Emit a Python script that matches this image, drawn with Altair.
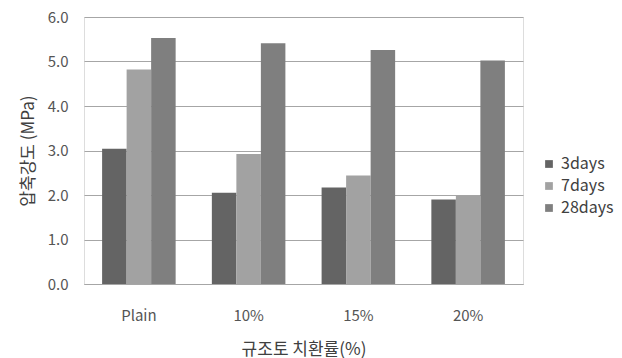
import altair as alt
import pandas as pd

categories = ["Plain", "10%", "15%", "20%"]
series = ["3days", "7days", "28days"]
v3 = [3.04, 2.05, 2.17, 1.90]
v7 = [4.82, 2.92, 2.44, 1.99]
v28 = [5.53, 5.41, 5.26, 5.02]
colors = ["#646464", "#a2a2a2", "#7f7f7f"]

rows = []
for s, vals in zip(series, [v3, v7, v28]):
    for c, v in zip(categories, vals):
        rows.append({"cat": c, "series": s, "value": v})
df = pd.DataFrame(rows)

FONT = "Noto Sans CJK KR"

chart = alt.Chart(df).mark_bar().encode(
    x=alt.X("cat:N", sort=categories,
            scale=alt.Scale(paddingInner=0.33, paddingOuter=0.165),
            axis=alt.Axis(title="규조토 치환률(%)", labelAngle=0, ticks=False,
                          domain=True, domainColor="#a6a6a6", labelPadding=24,
                          titlePadding=18, labelFontSize=15, titleFontSize=17,
                          labelColor="#555555", titleColor="#404040",
                          labelFont=FONT, titleFont=FONT, titleFontWeight="normal")),
    xOffset=alt.XOffset("series:N", sort=series),
    y=alt.Y("value:Q", scale=alt.Scale(domain=[0, 6]),
            axis=alt.Axis(title="압축강도 (MPa)", values=[0, 1, 2, 3, 4, 5, 6],
                          format=".1f", ticks=False, domain=False,
                          gridColor="#a6a6a6", gridWidth=1.2, labelPadding=16,
                          titlePadding=10, labelFontSize=15, titleFontSize=17,
                          labelColor="#555555", titleColor="#404040",
                          labelFont=FONT, titleFont=FONT, titleFontWeight="normal")),
    color=alt.Color("series:N", sort=series,
                    scale=alt.Scale(domain=series, range=colors),
                    legend=alt.Legend(title=None, orient="none", legendX=457, legendY=139,
                                      symbolType="square", symbolSize=60,
                                      labelFontSize=16, labelFont=FONT,
                                      labelColor="#404040", rowPadding=6,
                                      symbolStrokeWidth=0)),
).properties(
    width=439, height=267,
    autosize=alt.AutoSizeParams(type="none"),
    padding={"left": 84, "top": 17, "right": 99, "bottom": 74},
).configure_view(stroke=None).configure(background="white")

chart.save("out.html", embed_options={"renderer": "svg", "actions": False})
